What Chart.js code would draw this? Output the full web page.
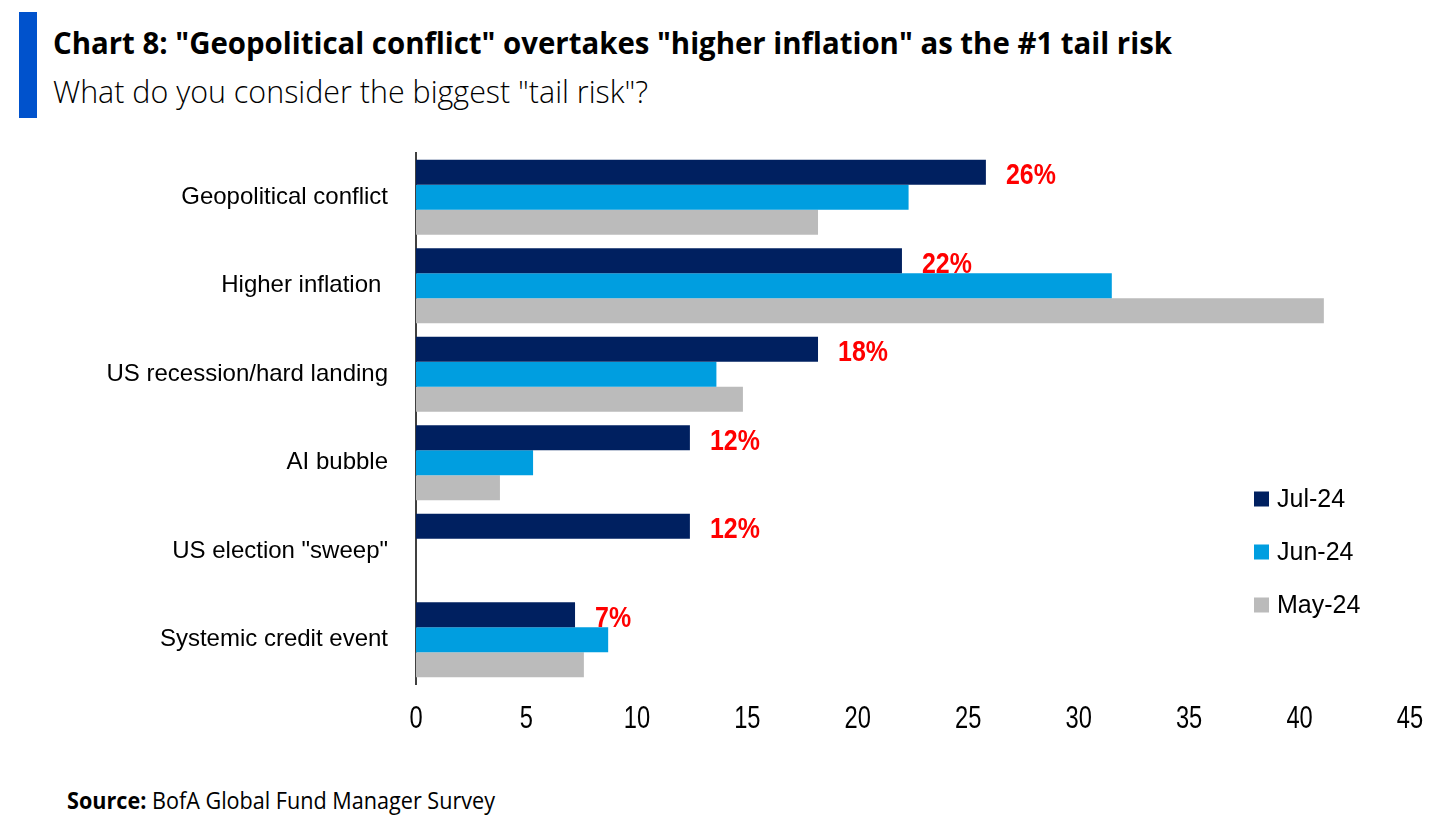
<!DOCTYPE html>
<html>
<head>
<meta charset="utf-8">
<script src="https://cdn.jsdelivr.net/npm/chart.js@4.4.1/dist/chart.umd.min.js"></script>
<style>
  body { margin: 0; background: #fff; }
  #wrap { position: relative; width: 1456px; height: 830px; overflow: hidden; }
  #bar { position: absolute; left: 19px; top: 12px; width: 18px; height: 106px; background: #0052cc; }
  .txt { position: absolute; left: 53px; white-space: nowrap; transform-origin: 0 0; font-family: "Open Sans", sans-serif; color: #000; }
  #title { top: 22px; font-size: 30px; font-weight: 700; }
  #subtitle { top: 70px; font-size: 31px; font-weight: 300; }
  #source { left: 67px; top: 784px; font-size: 23px; font-weight: 400; }
  #source b { font-weight: 700; }
  canvas { position: absolute; left: 0; top: 0; }
</style>
</head>
<body>
<div id="wrap">
  <div id="bar"></div>
  <div id="title" class="txt" data-w="1119">Chart 8: "Geopolitical conflict" overtakes "higher inflation" as the #1 tail risk</div>
  <div id="subtitle" class="txt" data-w="595">What do you consider the biggest "tail risk"?</div>
  <div id="source" class="txt" data-w="428"><b>Source:</b> BofA Global Fund Manager Survey</div>
  <canvas id="chart" width="1456" height="830"></canvas>
</div>
<script>
// 설문 항목과 월별 응답 비율 (%)
const categories = ["Geopolitical conflict", "Higher inflation ", "US recession/hard landing", "AI bubble", 'US election "sweep"', "Systemic credit event"];
const jul24 = [25.8, 22.0, 18.2, 12.4, 12.4, 7.2];
const jun24 = [22.3, 31.5, 13.6, 5.3, null, 8.7];
const may24 = [18.2, 41.1, 14.8, 3.8, null, 7.6];
const seriesNames = ["Jul-24", "Jun-24", "May-24"];
const xTicks = [0, 5, 10, 15, 20, 25, 30, 35, 40, 45];

// 제목 폭 맞추기
document.querySelectorAll(".txt").forEach((el) => {
  const w = el.getBoundingClientRect().width;
  el.style.transform = "scaleX(" + (el.dataset.w / w) + ")";
});

const colors = ["#002060", "#009ee0", "#bbbbbb"];

// 좁은 글꼴 흉내 (가로로 눌러서 그리기)
function narrowText(ctx, text, x, y, sx, align) {
  const w = ctx.measureText(text).width * sx;
  let left = x;
  if (align === "center") left = x - w / 2;
  ctx.save();
  ctx.translate(left, y);
  ctx.scale(sx, 1);
  ctx.textAlign = "left";
  ctx.fillText(text, 0, 0);
  ctx.restore();
}

// Jul-24 막대 옆 빨간 라벨
const valueLabels = {
  id: "valueLabels",
  afterDatasetsDraw(chart) {
    const ctx = chart.ctx;
    ctx.save();
    ctx.font = 'bold 29px "Liberation Sans", Arial, sans-serif';
    ctx.fillStyle = "#ff0000";
    ctx.textBaseline = "middle";
    chart.getDatasetMeta(0).data.forEach((bar, i) => {
      narrowText(ctx, Math.round(jul24[i]) + "%", bar.x + 20, bar.y + 4, 0.86, "left");
    });
    ctx.restore();
  },
};

// x축 눈금 글자 (좁게)
const xTickLabels = {
  id: "xTickLabels",
  afterDraw(chart) {
    const ctx = chart.ctx;
    const x = chart.scales.x;
    ctx.save();
    ctx.font = '32px "Liberation Sans", Arial, sans-serif';
    ctx.fillStyle = "#000";
    ctx.textBaseline = "middle";
    x.ticks.forEach((t) => {
      narrowText(ctx, String(t.value), x.getPixelForValue(t.value), 719, 0.74, "center");
    });
    ctx.restore();
  },
};

// 오른쪽 범례
const sideLegend = {
  id: "sideLegend",
  afterDraw(chart) {
    const ctx = chart.ctx;
    ctx.save();
    ctx.font = '25px "Liberation Sans", Arial, sans-serif';
    ctx.textBaseline = "middle";
    chart.data.datasets.forEach((ds, i) => {
      const y = 499 + i * 53;
      ctx.fillStyle = ds.backgroundColor;
      ctx.fillRect(1254, y - 7.5, 15, 15);
      ctx.fillStyle = "#000";
      ctx.fillText(ds.label, 1277, y + 1);
    });
    ctx.restore();
  },
};

const ctx = document.getElementById("chart").getContext("2d");

new Chart(ctx, {
  type: "bar",
  data: {
    labels: categories,
    datasets: [
      { label: seriesNames[0], data: jul24, backgroundColor: colors[0] },
      { label: seriesNames[1], data: jun24, backgroundColor: colors[1] },
      { label: seriesNames[2], data: may24, backgroundColor: colors[2] },
    ],
  },
  options: {
    indexAxis: "y",
    responsive: false,
    animation: false,
    categoryPercentage: 0.85,
    barPercentage: 1.0,
    layout: { padding: { top: 153, right: 46, left: 0, bottom: 0 } },
    plugins: {
      legend: { display: false },
      tooltip: { enabled: false },
    },
    scales: {
      x: {
        min: 0,
        max: 45,
        afterBuildTicks: (scale) => {
          scale.ticks = xTicks.map((v) => ({ value: v }));
        },
        afterFit: (scale) => {
          scale.height = 830 - 684;
        },
        grid: { display: false },
        border: { display: false },
        ticks: { display: false },
      },
      y: {
        afterFit: (scale) => {
          scale.width = 416;
        },
        grid: { display: false },
        border: { display: true, color: "#404040", width: 2 },
        ticks: {
          padding: 20,
          color: "#000",
          font: { family: '"Liberation Sans", Arial, sans-serif', size: 24 },
        },
      },
    },
  },
  plugins: [valueLabels, xTickLabels, sideLegend],
});
</script>
</body>
</html>
